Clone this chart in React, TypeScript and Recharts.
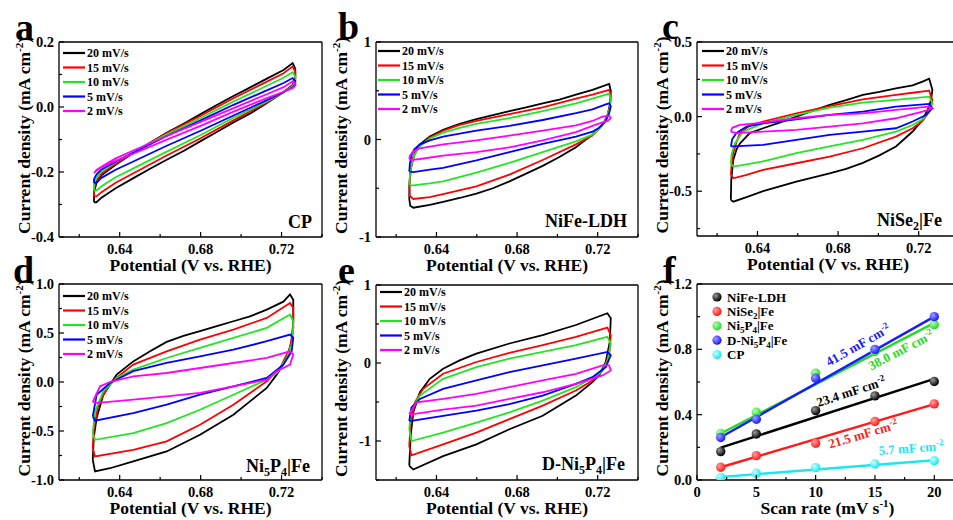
import React from 'react';
import { ComposedChart, Line, XAxis, YAxis, ReferenceLine, Legend } from 'recharts';

const FONT = '"Liberation Serif", "Times New Roman", Times, serif';

type Pt = [number, number];

// ---------- legend / colors ----------
const scanRates = ['20 mV/s', '15 mV/s', '10 mV/s', '5 mV/s', '2 mV/s'];
const cvColors = ['#000000', '#ff0000', '#22e622', '#0000ff', '#ff00ff'];

// ---------- panel a : CP ----------
const a20: Pt[] = [[0.6273,-0.293],[0.6273,-0.262],[0.6285,-0.235],[0.631,-0.21],[0.638,-0.178],[0.647,-0.14],[0.655,-0.11],[0.663,-0.08],[0.672,-0.05],[0.680,-0.022],[0.688,0.006],[0.696,0.033],[0.705,0.062],[0.713,0.088],[0.721,0.114],[0.7255,0.135],[0.7268,0.118],[0.7268,0.09],[0.7255,0.068],[0.721,0.046],[0.713,0.013],[0.705,-0.018],[0.696,-0.048],[0.688,-0.077],[0.680,-0.105],[0.672,-0.134],[0.663,-0.163],[0.655,-0.19],[0.647,-0.218],[0.638,-0.25],[0.631,-0.279],[0.6285,-0.293],[0.6273,-0.293]];
const a15: Pt[] = [[0.6273,-0.275],[0.6273,-0.25],[0.6285,-0.228],[0.631,-0.205],[0.638,-0.175],[0.647,-0.139],[0.663,-0.082],[0.680,-0.027],[0.696,0.026],[0.713,0.079],[0.721,0.104],[0.7255,0.125],[0.7268,0.108],[0.7268,0.085],[0.7255,0.066],[0.721,0.045],[0.713,0.015],[0.696,-0.042],[0.680,-0.096],[0.663,-0.15],[0.647,-0.203],[0.638,-0.233],[0.631,-0.262],[0.6285,-0.275],[0.6273,-0.275]];
const a10: Pt[] = [[0.6273,-0.257],[0.6273,-0.237],[0.6285,-0.218],[0.631,-0.198],[0.638,-0.17],[0.647,-0.138],[0.663,-0.085],[0.680,-0.034],[0.696,0.016],[0.713,0.066],[0.721,0.09],[0.7255,0.107],[0.7268,0.094],[0.7268,0.078],[0.7255,0.064],[0.721,0.046],[0.713,0.018],[0.696,-0.034],[0.680,-0.086],[0.663,-0.138],[0.647,-0.188],[0.638,-0.216],[0.631,-0.244],[0.6285,-0.257],[0.6273,-0.257]];
const a5: Pt[] = [[0.6273,-0.234],[0.6273,-0.222],[0.6285,-0.208],[0.631,-0.192],[0.638,-0.168],[0.647,-0.14],[0.663,-0.09],[0.680,-0.041],[0.696,0.006],[0.713,0.052],[0.721,0.074],[0.7255,0.089],[0.7268,0.08],[0.7268,0.07],[0.7255,0.06],[0.721,0.046],[0.713,0.022],[0.696,-0.027],[0.680,-0.073],[0.663,-0.12],[0.647,-0.167],[0.638,-0.193],[0.631,-0.218],[0.6285,-0.232],[0.6273,-0.234]];
const a2: Pt[] = [[0.6273,-0.203],[0.6285,-0.194],[0.631,-0.184],[0.634,-0.172],[0.638,-0.158],[0.647,-0.133],[0.663,-0.09],[0.680,-0.046],[0.696,-0.004],[0.713,0.04],[0.721,0.061],[0.7255,0.079],[0.7268,0.073],[0.7268,0.066],[0.7255,0.058],[0.721,0.047],[0.713,0.028],[0.696,-0.015],[0.680,-0.058],[0.663,-0.101],[0.647,-0.143],[0.638,-0.166],[0.631,-0.185],[0.6285,-0.196],[0.6273,-0.203]];

// ---------- panel b : NiFe-LDH ----------
const b20: Pt[] = [[0.6265,-0.61],[0.6266,-0.45],[0.6272,-0.30],[0.6285,-0.18],[0.6301,-0.10],[0.6318,-0.05],[0.6367,0.03],[0.6433,0.10],[0.6515,0.16],[0.6598,0.21],[0.668,0.25],[0.6762,0.29],[0.6845,0.33],[0.6927,0.37],[0.701,0.41],[0.7092,0.46],[0.7174,0.51],[0.7257,0.57],[0.7265,0.50],[0.7262,0.38],[0.7250,0.25],[0.7224,0.15],[0.7174,0.05],[0.7092,-0.08],[0.701,-0.18],[0.6927,-0.27],[0.6845,-0.35],[0.6762,-0.43],[0.668,-0.50],[0.6598,-0.555],[0.6515,-0.60],[0.6433,-0.64],[0.6367,-0.67],[0.6285,-0.70],[0.6270,-0.68],[0.6265,-0.61]];
const b15: Pt[] = [[0.6266,-0.50],[0.6268,-0.40],[0.6275,-0.28],[0.6290,-0.16],[0.6310,-0.08],[0.6367,0.02],[0.6433,0.09],[0.6515,0.15],[0.6598,0.19],[0.6762,0.26],[0.6927,0.33],[0.7092,0.42],[0.7174,0.46],[0.7257,0.51],[0.7265,0.45],[0.7260,0.33],[0.7240,0.20],[0.7207,0.11],[0.7174,0.04],[0.7092,-0.05],[0.6927,-0.21],[0.6762,-0.36],[0.6598,-0.48],[0.6433,-0.56],[0.6367,-0.59],[0.6285,-0.61],[0.6268,-0.58],[0.6266,-0.50]];
const b10: Pt[] = [[0.6266,-0.47],[0.6268,-0.38],[0.6275,-0.27],[0.6290,-0.16],[0.6318,-0.07],[0.6367,0.01],[0.6433,0.07],[0.6515,0.12],[0.6598,0.16],[0.6762,0.22],[0.6927,0.29],[0.7092,0.37],[0.7174,0.42],[0.7257,0.47],[0.7265,0.42],[0.7260,0.32],[0.7240,0.20],[0.7207,0.11],[0.7174,0.05],[0.7092,-0.02],[0.6927,-0.13],[0.6762,-0.24],[0.6598,-0.34],[0.6433,-0.43],[0.6367,-0.45],[0.6285,-0.47],[0.6268,-0.47]];
const b5: Pt[] = [[0.6265,-0.33],[0.6268,-0.25],[0.6276,-0.16],[0.6290,-0.10],[0.6318,-0.05],[0.6367,-0.01],[0.6433,0.03],[0.6515,0.06],[0.6598,0.09],[0.6762,0.14],[0.6927,0.20],[0.7092,0.27],[0.7174,0.31],[0.7240,0.36],[0.7257,0.37],[0.7265,0.34],[0.7257,0.27],[0.7240,0.19],[0.7207,0.12],[0.7174,0.08],[0.7092,0.03],[0.6927,-0.045],[0.6762,-0.13],[0.6598,-0.215],[0.6433,-0.29],[0.6367,-0.31],[0.6285,-0.335],[0.6268,-0.33]];
const b2: Pt[] = [[0.6265,-0.20],[0.6270,-0.16],[0.6285,-0.12],[0.6318,-0.09],[0.6433,-0.05],[0.6598,-0.01],[0.6762,0.04],[0.6927,0.09],[0.7092,0.145],[0.7174,0.19],[0.7224,0.235],[0.7257,0.245],[0.7265,0.22],[0.7250,0.19],[0.7224,0.175],[0.7174,0.14],[0.7092,0.075],[0.6927,-0.01],[0.6762,-0.08],[0.6598,-0.13],[0.6433,-0.165],[0.6318,-0.2],[0.6275,-0.21],[0.6265,-0.20]];

// ---------- panel c : NiSe2|Fe ----------
const c20: Pt[] = [[0.6268,-0.558],[0.6270,-0.42],[0.6280,-0.29],[0.6296,-0.22],[0.6313,-0.18],[0.6362,-0.11],[0.6428,-0.078],[0.651,-0.04],[0.6593,0.0],[0.6675,0.04],[0.6758,0.078],[0.684,0.11],[0.6923,0.145],[0.7005,0.165],[0.7087,0.19],[0.717,0.21],[0.7219,0.234],[0.7252,0.254],[0.7268,0.18],[0.7262,0.12],[0.7252,0.067],[0.7219,-0.022],[0.717,-0.1],[0.7087,-0.2],[0.7005,-0.26],[0.6923,-0.31],[0.684,-0.35],[0.6758,-0.38],[0.6593,-0.435],[0.6428,-0.50],[0.6346,-0.54],[0.628,-0.57],[0.6268,-0.558]];
const c15: Pt[] = [[0.6268,-0.39],[0.6272,-0.31],[0.628,-0.245],[0.6296,-0.17],[0.6313,-0.11],[0.6362,-0.06],[0.6428,-0.033],[0.6593,0.022],[0.6758,0.071],[0.6923,0.116],[0.7087,0.145],[0.717,0.16],[0.7252,0.174],[0.7268,0.11],[0.7252,0.033],[0.7219,-0.03],[0.717,-0.078],[0.7087,-0.134],[0.6923,-0.212],[0.6758,-0.268],[0.6593,-0.3125],[0.6428,-0.357],[0.6346,-0.39],[0.628,-0.413],[0.6268,-0.39]];
const c10: Pt[] = [[0.6268,-0.3125],[0.6272,-0.25],[0.6288,-0.18],[0.6313,-0.13],[0.633,-0.1],[0.6428,-0.045],[0.6593,0.011],[0.6758,0.06],[0.6923,0.094],[0.7087,0.112],[0.7252,0.134],[0.7268,0.09],[0.7252,0.033],[0.7219,-0.02],[0.717,-0.056],[0.7087,-0.1],[0.6923,-0.156],[0.6758,-0.2],[0.6593,-0.245],[0.6428,-0.3],[0.6346,-0.32],[0.628,-0.335],[0.6268,-0.3125]];
const c5: Pt[] = [[0.6268,-0.2],[0.6275,-0.15],[0.6296,-0.11],[0.6346,-0.067],[0.6428,-0.045],[0.6593,-0.018],[0.6758,0.011],[0.6923,0.033],[0.7087,0.067],[0.7252,0.085],[0.7268,0.056],[0.7236,0.011],[0.717,-0.033],[0.7087,-0.078],[0.6923,-0.1],[0.6758,-0.123],[0.6593,-0.156],[0.6428,-0.19],[0.628,-0.2],[0.6268,-0.2]];
const c2: Pt[] = [[0.6268,-0.1],[0.6275,-0.075],[0.6313,-0.056],[0.6428,-0.04],[0.6593,-0.011],[0.6758,0.011],[0.6923,0.022],[0.7087,0.045],[0.7252,0.067],[0.7268,0.056],[0.7219,0.033],[0.7087,-0.011],[0.6923,-0.045],[0.6758,-0.067],[0.6593,-0.089],[0.6428,-0.1],[0.6296,-0.11],[0.6268,-0.1]];

// ---------- panel d : Ni5P4|Fe ----------
const d20: Pt[] = [[0.6267,-0.794],[0.6270,-0.65],[0.6273,-0.55],[0.6286,-0.368],[0.6319,-0.13],[0.6385,0.075],[0.6467,0.21],[0.655,0.313],[0.6632,0.409],[0.6715,0.47],[0.6797,0.518],[0.688,0.57],[0.6962,0.62],[0.7044,0.67],[0.7127,0.739],[0.7209,0.82],[0.7242,0.893],[0.7258,0.84],[0.7258,0.62],[0.725,0.416],[0.7226,0.245],[0.7176,0.075],[0.7127,-0.061],[0.7044,-0.198],[0.6962,-0.334],[0.6797,-0.538],[0.6632,-0.709],[0.6467,-0.81],[0.6352,-0.88],[0.6278,-0.913],[0.6267,-0.794]];
const d15: Pt[] = [[0.6267,-0.675],[0.6272,-0.47],[0.6295,-0.23],[0.6352,-0.01],[0.6467,0.177],[0.6632,0.313],[0.6797,0.433],[0.6962,0.535],[0.7127,0.654],[0.7242,0.807],[0.7258,0.756],[0.7258,0.552],[0.7242,0.348],[0.7193,0.143],[0.7127,0.007],[0.6962,-0.232],[0.6797,-0.436],[0.6632,-0.606],[0.6467,-0.692],[0.6278,-0.76],[0.6267,-0.675]];
const d10: Pt[] = [[0.6267,-0.52],[0.6278,-0.3],[0.6319,-0.095],[0.6385,0.04],[0.6467,0.126],[0.6632,0.245],[0.6797,0.348],[0.6962,0.45],[0.7127,0.552],[0.7242,0.688],[0.7258,0.62],[0.7255,0.416],[0.7226,0.245],[0.7176,0.092],[0.7127,0.024],[0.6962,-0.13],[0.6797,-0.283],[0.6632,-0.419],[0.6467,-0.521],[0.6278,-0.59],[0.6267,-0.52]];
const d5: Pt[] = [[0.6267,-0.35],[0.6286,-0.13],[0.6352,-0.01],[0.6467,0.11],[0.6632,0.194],[0.6797,0.262],[0.6962,0.33],[0.7127,0.416],[0.7242,0.484],[0.7258,0.45],[0.725,0.313],[0.7209,0.177],[0.7127,0.041],[0.6962,-0.044],[0.6797,-0.13],[0.6632,-0.232],[0.6467,-0.317],[0.6278,-0.395],[0.6267,-0.35]];
const d2: Pt[] = [[0.6267,-0.2],[0.6303,-0.044],[0.6352,0.0],[0.6467,0.058],[0.6632,0.092],[0.6797,0.143],[0.6962,0.194],[0.7127,0.245],[0.7242,0.313],[0.7258,0.28],[0.7242,0.177],[0.7176,0.109],[0.7127,0.024],[0.6962,-0.044],[0.6797,-0.112],[0.6632,-0.147],[0.6467,-0.18],[0.6278,-0.215],[0.6267,-0.2]];

// ---------- panel e : D-Ni5P4|Fe ----------
const e20: Pt[] = [[0.6265,-1.315],[0.6272,-0.935],[0.6285,-0.634],[0.6318,-0.375],[0.6367,-0.203],[0.6433,-0.073],[0.6515,0.034],[0.6598,0.12],[0.6762,0.25],[0.6927,0.358],[0.7092,0.487],[0.7248,0.638],[0.7265,0.573],[0.7260,0.27],[0.7240,0.013],[0.7207,-0.16],[0.7174,-0.246],[0.7092,-0.418],[0.6927,-0.677],[0.6762,-0.849],[0.6598,-1.043],[0.6433,-1.194],[0.6285,-1.366],[0.6265,-1.315]];
const e15: Pt[] = [[0.6265,-1.065],[0.6272,-0.763],[0.6293,-0.504],[0.6334,-0.332],[0.6433,-0.138],[0.6598,0.013],[0.6762,0.129],[0.6927,0.228],[0.7092,0.336],[0.7248,0.453],[0.7265,0.358],[0.7257,0.099],[0.7224,-0.095],[0.7174,-0.224],[0.7092,-0.353],[0.6927,-0.547],[0.6762,-0.72],[0.6598,-0.892],[0.6433,-1.043],[0.6276,-1.185],[0.6265,-1.065]];
const e10: Pt[] = [[0.6265,-0.849],[0.6276,-0.59],[0.6318,-0.418],[0.6433,-0.203],[0.6598,-0.052],[0.6762,0.056],[0.6927,0.142],[0.7092,0.228],[0.7248,0.336],[0.7265,0.25],[0.7248,0.013],[0.7207,-0.138],[0.7092,-0.31],[0.6927,-0.483],[0.6762,-0.634],[0.6598,-0.763],[0.6433,-0.892],[0.6276,-1.0],[0.6265,-0.849]];
const e5: Pt[] = [[0.6265,-0.741],[0.6276,-0.569],[0.6318,-0.461],[0.6433,-0.332],[0.6598,-0.224],[0.6762,-0.116],[0.6927,-0.03],[0.7092,0.056],[0.7248,0.142],[0.7265,0.099],[0.724,-0.052],[0.7174,-0.181],[0.7092,-0.267],[0.6927,-0.418],[0.6762,-0.526],[0.6598,-0.612],[0.6433,-0.677],[0.6276,-0.741],[0.6265,-0.741]];
const e2: Pt[] = [[0.6265,-0.655],[0.6301,-0.504],[0.6433,-0.461],[0.6598,-0.397],[0.6762,-0.31],[0.6927,-0.224],[0.7092,-0.138],[0.7224,-0.03],[0.7257,-0.03],[0.7265,-0.095],[0.7224,-0.16],[0.7092,-0.267],[0.6927,-0.375],[0.6762,-0.461],[0.6598,-0.547],[0.6433,-0.599],[0.6285,-0.655],[0.6265,-0.655]];

// ---------- panel f : capacitance ----------
const scanRate = [2, 5, 10, 15, 20];
const jNiFe = [0.174, 0.282, 0.425, 0.515, 0.603];
const jNiSe = [0.078, 0.149, 0.225, 0.358, 0.466];
const jNi5P4 = [0.285, 0.415, 0.654, 0.787, 0.951];
const jDNi5P4 = [0.26, 0.372, 0.623, 0.80, 1.0];
const jCP = [0.016, 0.041, 0.076, 0.098, 0.118];
const fitX = [2, 20];
const fitNiFe = [0.198, 0.619];
const fitNiSe = [0.078, 0.465];
const fitNi5P4 = [0.285, 0.962];
const fitDNi5P4 = [0.262, 1.0];
const fitCP = [0.018, 0.121];
const fColors = ['#000000', '#ff1a1a', '#22dd22', '#1a1aff', '#1ee6f0'];
const fGrad = ['gk', 'gr', 'gg', 'gb', 'gc'];
const fHi = ['#9a9a9a', '#ffa0a0', '#b4ffb4', '#a0a0ff', '#c8ffff'];
const slopes = ['41.5', '38.0', '23.4', '21.5', '5.7'];

// ---------- axis tick values ----------
const cvXMajor = [0.64, 0.68, 0.72];
const cvXTicks = [0.62, 0.64, 0.66, 0.68, 0.70, 0.72, 0.74];

const toXY = (arr: Pt[]) => arr.map(([x, y]) => ({ x, y }));
const toXYs = (xs: number[], ys: number[]) => xs.map((x, i) => ({ x, y: ys[i] }));

const isMajor = (majors: number[], v: number) => majors.some((m) => Math.abs(m - v) < 1e-9);

const XTick = (props: any) => {
  const { x, y, payload, majors, fmt } = props;
  const major = isMajor(majors, payload.value);
  return (
    <g>
      <line x1={x} x2={x} y1={y} y2={y - (major ? 5 : 3)} stroke="#000" strokeWidth={1.2} />
      {major && (
        <text x={x} y={y + 17} textAnchor="middle" fontFamily={FONT} fontWeight="bold" fontSize={14.5} fill="#000">
          {fmt(payload.value)}
        </text>
      )}
    </g>
  );
};

const YTick = (props: any) => {
  const { x, y, payload, majors, fmt } = props;
  const major = isMajor(majors, payload.value);
  return (
    <g>
      <line x1={x} x2={x + (major ? 5 : 3)} y1={y} y2={y} stroke="#000" strokeWidth={1.2} />
      {major && (
        <text x={x - 5} y={y} dy="0.35em" textAnchor="end" fontFamily={FONT} fontWeight="bold" fontSize={14.5} fill="#000">
          {fmt(payload.value)}
        </text>
      )}
    </g>
  );
};

const txt = { fontFamily: FONT, fontWeight: 'bold' as const, fill: '#000' };

const CvLegendSvg = () => (
  <svg width={90} height={74} style={{ display: 'block' }}>
    {scanRates.map((s, i) => (
      <g key={s}>
        <line x1={0} x2={22} y1={7 + i * 14.5} y2={7 + i * 14.5} stroke={cvColors[i]} strokeWidth={2.2} />
        <text x={24} y={7 + i * 14.5} dy="0.35em" fontSize={12} {...txt}>{s}</text>
      </g>
    ))}
  </svg>
);

const fNames: React.ReactNode[] = [
  <>NiFe-LDH</>,
  <>NiSe<tspan dy={3} fontSize={9}>2</tspan><tspan dy={-3}>|Fe</tspan></>,
  <>Ni<tspan dy={3} fontSize={9}>5</tspan><tspan dy={-3}>P</tspan><tspan dy={3} fontSize={9}>4</tspan><tspan dy={-3}>|Fe</tspan></>,
  <>D-Ni<tspan dy={3} fontSize={9}>5</tspan><tspan dy={-3}>P</tspan><tspan dy={3} fontSize={9}>4</tspan><tspan dy={-3}>|Fe</tspan></>,
  <>CP</>,
];

const FLegendSvg = () => (
  <svg width={110} height={76} style={{ display: 'block' }}>
    {fNames.map((n, i) => (
      <g key={i}>
        <circle cx={6} cy={8 + i * 14.4} r={4.6} fill={`url(#${fGrad[i]})`} />
        <text x={16} y={8 + i * 14.4} dy="0.35em" fontSize={13} {...txt}>{n}</text>
      </g>
    ))}
  </svg>
);

const legendWrap = (left: number, top: number): React.CSSProperties => ({
  position: 'absolute', left, top, width: 'auto', height: 'auto', margin: 0, padding: 0, lineHeight: 0,
});

type Cfg = {
  cx: number; cy: number; cw: number; ch: number;
  pl: number; pt: number; pr: number; pb: number;
  xDomain: [number, number]; xTicks: number[]; xMajor: number[]; xFmt: (v: number) => string;
  yDomain: [number, number]; yTicks: number[]; yMajor: number[]; yFmt: (v: number) => string;
};

const yTitle = (cfg: Cfg) => (
  <text
    transform={`translate(${cfg.pl - 29 - cfg.cx},${(cfg.pt + cfg.pb) / 2 - 4 - cfg.cy}) rotate(-90)`}
    textAnchor="middle" fontSize={17.5} {...txt}
  >
    Current density (mA cm<tspan dy={-7} fontSize={11}>-2</tspan><tspan dy={7}>)</tspan>
  </text>
);

const xTitle = (cfg: Cfg, content: React.ReactNode) => (
  <text x={(cfg.pl + cfg.pr) / 2 - cfg.cx} y={cfg.pb + 34 - cfg.cy} textAnchor="middle" fontSize={17.5} {...txt}>
    {content}
  </text>
);

function renderPanel(cfg: Cfg, body: React.ReactNode, extras: React.ReactNode, legend: React.ReactNode) {
  const margin = { top: cfg.pt - cfg.cy, right: cfg.cx + cfg.cw - cfg.pr, bottom: 0, left: 0 };
  return (
    <div style={{ position: 'absolute', left: cfg.cx, top: cfg.cy, width: cfg.cw, height: cfg.ch }}>
      <ComposedChart width={cfg.cw} height={cfg.ch} margin={margin}>
        <XAxis
          type="number" dataKey="x" domain={cfg.xDomain} ticks={cfg.xTicks} interval={0} allowDataOverflow
          height={cfg.cy + cfg.ch - cfg.pb} tickSize={0} tickMargin={0} tickLine={false}
          axisLine={{ stroke: '#000', strokeWidth: 1.3 }}
          tick={(p: any) => <XTick {...p} majors={cfg.xMajor} fmt={cfg.xFmt} />}
        />
        <YAxis
          type="number" dataKey="y" domain={cfg.yDomain} ticks={cfg.yTicks} interval={0} allowDataOverflow
          width={cfg.pl - cfg.cx} tickSize={0} tickMargin={0} tickLine={false}
          axisLine={{ stroke: '#000', strokeWidth: 1.3 }}
          tick={(p: any) => <YTick {...p} majors={cfg.yMajor} fmt={cfg.yFmt} />}
        />
        <ReferenceLine y={cfg.yDomain[1]} stroke="#000" strokeWidth={1.3} />
        <ReferenceLine x={cfg.xDomain[1]} stroke="#000" strokeWidth={1.3} />
        {body}
        {legend}
        {yTitle(cfg)}
        {extras}
      </ComposedChart>
    </div>
  );
}

const cvLines = (curves: Pt[][]) =>
  curves.map((c, i) => (
    <Line
      key={i} data={toXY(c)} dataKey="y" type="linear" stroke={cvColors[i]} strokeWidth={1.8}
      dot={false} activeDot={false} isAnimationActive={false}
    />
  ));

const fmt1 = (v: number) => v.toFixed(1);
const fmt0 = (v: number) => v.toFixed(0);
const fmt2 = (v: number) => v.toFixed(2);

const cvBase = { xDomain: [0.61, 0.74] as [number, number], xTicks: cvXTicks, xMajor: cvXMajor, xFmt: fmt2 };

const cfgA: Cfg = { cx: 0, cy: 0, cw: 335, ch: 285, pl: 59, pt: 42, pr: 322, pb: 237, ...cvBase,
  yDomain: [-0.4, 0.2], yTicks: [-0.4, -0.3, -0.2, -0.1, 0, 0.1, 0.2], yMajor: [-0.4, -0.2, 0, 0.2], yFmt: fmt1 };
const cfgB: Cfg = { cx: 318, cy: 0, cw: 330, ch: 285, pl: 376, pt: 42, pr: 638, pb: 237, ...cvBase,
  yDomain: [-1, 1], yTicks: [-1, -0.5, 0, 0.5, 1], yMajor: [-1, 0, 1], yFmt: fmt0 };
const cfgC: Cfg = { cx: 640, cy: 0, cw: 330, ch: 285, pl: 697, pt: 42, pr: 959, pb: 236, ...cvBase,
  yDomain: [-0.8, 0.5], yTicks: [-0.75, -0.5, -0.25, 0, 0.25, 0.5], yMajor: [-0.5, 0, 0.5], yFmt: fmt1 };
const cfgD: Cfg = { cx: 0, cy: 250, cw: 335, ch: 270, pl: 59, pt: 284, pr: 322, pb: 480, ...cvBase,
  yDomain: [-1, 1], yTicks: [-1, -0.75, -0.5, -0.25, 0, 0.25, 0.5, 0.75, 1], yMajor: [-1, -0.5, 0, 0.5, 1], yFmt: fmt1 };
const cfgE: Cfg = { cx: 318, cy: 250, cw: 330, ch: 270, pl: 376, pt: 285, pr: 638, pb: 480, ...cvBase,
  yDomain: [-1.5, 1], yTicks: [-1.5, -1, -0.5, 0, 0.5, 1], yMajor: [-1, 0, 1], yFmt: fmt0 };
const cfgF: Cfg = { cx: 640, cy: 250, cw: 330, ch: 270, pl: 697, pt: 284, pr: 958, pb: 480,
  xDomain: [0, 22], xTicks: [0, 2.5, 5, 7.5, 10, 12.5, 15, 17.5, 20], xMajor: [0, 5, 10, 15, 20], xFmt: (v) => String(v),
  yDomain: [0, 1.2], yTicks: [0, 0.2, 0.4, 0.6, 0.8, 1.0, 1.2], yMajor: [0, 0.4, 0.8, 1.2], yFmt: fmt1 };

const potTitle = <>Potential (V vs. RHE)</>;

const letter = (x: number, y: number, s: string) => (
  <text x={x} y={y} fontSize={38} {...txt}>{s}</text>
);
const sample = (x: number, y: number, content: React.ReactNode) => (
  <text x={x} y={y} textAnchor="end" fontSize={18} {...txt}>{content}</text>
);
const cvLegend = (left: number, top: number) => (
  <Legend layout="vertical" align="center" verticalAlign="middle" content={() => <CvLegendSvg />} wrapperStyle={legendWrap(left, top)} />
);

const fSeries = [jNiFe, jNiSe, jNi5P4, jDNi5P4, jCP];
const fFits = [fitNiFe, fitNiSe, fitNi5P4, fitDNi5P4, fitCP];

const annot = (x: number, y: number, angle: number, color: string, value: string) => (
  <text transform={`translate(${x},${y}) rotate(${angle})`} textAnchor="middle" dy="0.35em" fontSize={13} fontFamily={FONT} fontWeight="bold" fill={color}>
    {value} mF cm<tspan dy={-5} fontSize={9}>-2</tspan>
  </text>
);

export default function App() {
  return (
    <div style={{ position: 'absolute', left: 0, top: 0, width: 953, height: 520, overflow: 'hidden', background: '#fff' }}>
      <svg width={0} height={0} style={{ position: 'absolute' }}>
        <defs>
          {fGrad.map((g, i) => (
            <radialGradient key={g} id={g} cx="35%" cy="35%" r="65%">
              <stop offset="0%" stopColor={fHi[i]} />
              <stop offset="100%" stopColor={fColors[i]} />
            </radialGradient>
          ))}
        </defs>
      </svg>

      {renderPanel(cfgA, cvLines([a20, a15, a10, a5, a2]),
        <>{letter(15, 40, 'a')}{sample(312, 228, 'CP')}{xTitle(cfgA, potTitle)}</>,
        cvLegend(62.7, 46.3))}

      {renderPanel(cfgB, cvLines([b20, b15, b10, b5, b2]),
        <>{letter(20, 39, 'b')}{sample(309, 227, 'NiFe-LDH')}{xTitle(cfgB, potTitle)}</>,
        cvLegend(60.3, 43.7))}

      {renderPanel(cfgC, cvLines([c20, c15, c10, c5, c2]),
        <>{letter(22, 39, 'c')}
          {sample(302, 226, <>NiSe<tspan dy={4} fontSize={12}>2</tspan><tspan dy={-4}>|Fe</tspan></>)}
          {xTitle(cfgC, potTitle)}</>,
        cvLegend(61.7, 43.7))}

      {renderPanel(cfgD, cvLines([d20, d15, d10, d5, d2]),
        <>{letter(13, 33, 'd')}
          {sample(310, 221.5, <>Ni<tspan dy={4} fontSize={12}>5</tspan><tspan dy={-4}>P</tspan><tspan dy={4} fontSize={12}>4</tspan><tspan dy={-4}>|Fe</tspan></>)}
          {xTitle(cfgD, potTitle)}</>,
        cvLegend(63, 39))}

      {renderPanel(cfgE, cvLines([e20, e15, e10, e5, e2]),
        <>{letter(20, 33, 'e')}
          {sample(307, 220, <>D-Ni<tspan dy={4} fontSize={12}>5</tspan><tspan dy={-4}>P</tspan><tspan dy={4} fontSize={12}>4</tspan><tspan dy={-4}>|Fe</tspan></>)}
          {xTitle(cfgE, potTitle)}</>,
        cvLegend(62, 34.7))}

      {renderPanel(cfgF,
        <>
          {fFits.map((f, i) => (
            <Line key={`fit${i}`} data={toXYs(fitX, f)} dataKey="y" type="linear" stroke={fColors[i]} strokeWidth={2.4}
              dot={false} activeDot={false} isAnimationActive={false} />
          ))}
          {fSeries.map((s, i) => (
            <Line key={`pts${i}`} data={toXYs(scanRate, s)} dataKey="y" type="linear" stroke="none"
              dot={(p: any) => <circle key={`d${i}-${p.index}`} cx={p.cx} cy={p.cy} r={4.7} fill={`url(#${fGrad[i]})`} />}
              activeDot={false} isAnimationActive={false} />
          ))}
        </>,
        <>{letter(23, 33, 'f')}
          {xTitle(cfgF, <>Scan rate (mV s<tspan dy={-7} fontSize={11}>-1</tspan><tspan dy={7}>)</tspan></>)}
          {annot(218, 95, -29.5, fColors[3], slopes[0])}
          {annot(261, 100, -27.5, fColors[2], slopes[1])}
          {annot(211, 141.5, -18, fColors[0], slopes[2])}
          {annot(223, 184, -16.5, fColors[1], slopes[3])}
          {annot(271, 198, -4.5, fColors[4], slopes[4])}
        </>,
        <Legend layout="vertical" align="center" verticalAlign="middle" content={() => <FLegendSvg />} wrapperStyle={legendWrap(71, 38.7)} />)}
    </div>
  );
}
